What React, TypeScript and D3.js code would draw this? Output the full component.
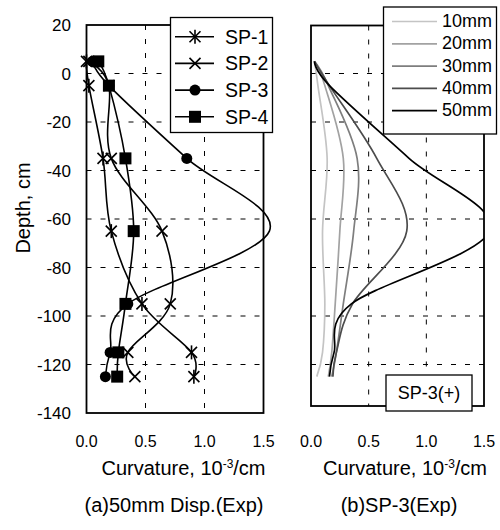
import React from "react";
import * as d3 from "d3";

// ---------- data ----------
const depths = [5, -5, -35, -65, -95, -115, -125];
const sp1 = [0.0, 0.02, 0.14, 0.21, 0.47, 0.89, 0.91];
const sp2 = [0.02, 0.19, 0.21, 0.64, 0.71, 0.35, 0.41];
const sp3 = [0.05, 0.19, 0.85, 1.55, 0.35, 0.2, 0.16];
const sp4 = [0.1, 0.19, 0.33, 0.4, 0.33, 0.27, 0.26];
const spNames = ["SP-1", "SP-2", "SP-3", "SP-4"];
const spMarkers = ["asterisk", "x", "circle", "square"];

const d10 = [0.03, 0.06, 0.14, 0.1, 0.12, 0.1, 0.05];
const d20 = [0.03, 0.12, 0.28, 0.25, 0.21, 0.18, 0.15];
const d30 = [0.03, 0.15, 0.4, 0.37, 0.28, 0.22, 0.18];
const d40 = [0.03, 0.16, 0.57, 0.83, 0.36, 0.22, 0.19];
const d50 = [0.03, 0.16, 0.85, 1.55, 0.35, 0.2, 0.16];
const dispNames = ["10mm", "20mm", "30mm", "40mm", "50mm"];
const dispColors = ["#c4c4c4", "#a2a2a2", "#7e7e7e", "#4c4c4c", "#000000"];

const yTicks = [20, 0, -20, -40, -60, -80, -100, -120, -140];
const xTicks = [0, 0.5, 1.0, 1.5];
const xTickLabels = ["0.0", "0.5", "1.0", "1.5"];

// ---------- layout ----------
const FONT = "'Liberation Sans', Arial, Helvetica, sans-serif";
const L = { x0: 86.5, x1: 263.5, top: 25, bottom: 413 };
const R = { x0: 311, x1: 484, top: 25.5, bottom: 406 };

const y = d3.scaleLinear().domain([20, -140]).range([L.top, L.bottom]);
const xL = d3.scaleLinear().domain([0, 1.5]).range([L.x0, L.x1]);
const xR = d3.scaleLinear().domain([0, 1.5]).range([R.x0, R.x1]);

type Pt = { v: number; d: number };
const toPts = (vals: number[]): Pt[] => vals.map((v, i) => ({ v, d: depths[i] }));

const lineGen = (xs: d3.ScaleLinear<number, number>) =>
  d3
    .line<Pt>()
    .x((p) => xs(p.v))
    .y((p) => y(p.d))
    .curve(d3.curveCardinal.tension(0));

function Marker({ type, cx, cy }: { type: string; cx: number; cy: number }) {
  const s = 5.5;
  if (type === "circle") return <circle cx={cx} cy={cy} r={5.5} fill="#000" />;
  if (type === "square")
    return <rect x={cx - 6} y={cy - 6} width={12} height={12} fill="#000" />;
  const parts = [
    <line key="a" x1={cx - s} y1={cy - s} x2={cx + s} y2={cy + s} />,
    <line key="b" x1={cx - s} y1={cy + s} x2={cx + s} y2={cy - s} />,
  ];
  if (type === "asterisk")
    parts.push(<line key="c" x1={cx} y1={cy - 7} x2={cx} y2={cy + 7} />);
  return (
    <g stroke="#000" strokeWidth={1.6}>
      {parts}
    </g>
  );
}

function Grid({ xs, P }: { xs: d3.ScaleLinear<number, number>; P: typeof L }) {
  const hs = yTicks.filter((t) => y(t) > P.top + 1 && y(t) < P.bottom - 1);
  const vs = xTicks.filter((t) => xs(t) > P.x0 + 1 && xs(t) < P.x1 - 1);
  return (
    <g stroke="#000" strokeWidth={1} strokeDasharray="5,9">
      {hs.map((t) => (
        <line key={"h" + t} x1={P.x0} x2={P.x1} y1={y(t)} y2={y(t)} />
      ))}
      {vs.map((t) => (
        <line key={"v" + t} x1={xs(t)} x2={xs(t)} y1={P.top} y2={P.bottom} />
      ))}
    </g>
  );
}

export default function App() {
  const spSeries = [sp1, sp2, sp3, sp4].map(toPts);
  const dispSeries = [d10, d20, d30, d40, d50].map(toPts);
  const gL = lineGen(xL);
  const gR = lineGen(xR);
  const [, xMax] = xL.domain();

  return (
    <svg width={500} height={530} style={{ display: "block", position: "absolute", left: 0, top: 0 }} fontFamily={FONT}>
      <rect x={0} y={0} width={500} height={530} fill="#fff" />
      <defs>
        <clipPath id="clipR">
          <rect x={R.x0} y={R.top} width={R.x1 - R.x0} height={R.bottom - R.top} />
        </clipPath>
      </defs>

      {/* ---------- left panel ---------- */}
      <Grid xs={xL} P={L} />
      {spSeries.map((pts, i) => (
        <path key={"l" + i} d={gL(pts) || ""} fill="none" stroke="#000" strokeWidth={1.6} />
      ))}
      {spSeries.map((pts, i) =>
        pts
          .filter((p) => p.v <= xMax)
          .map((p, j) => <Marker key={`m${i}-${j}`} type={spMarkers[i]} cx={xL(p.v)} cy={y(p.d)} />)
      )}
      <rect x={L.x0} y={L.top} width={L.x1 - L.x0} height={L.bottom - L.top} fill="none" stroke="#000" strokeWidth={1.8} />

      {yTicks.map((t) => (
        <text key={"yt" + t} x={71} y={y(t)} dy="0.36em" textAnchor="end" fontSize={17}>
          {String(t)}
        </text>
      ))}
      {xTicks.map((t, i) => (
        <text key={"xl" + t} x={xL(t)} y={447} textAnchor="middle" fontSize={16}>
          {xTickLabels[i]}
        </text>
      ))}
      <text transform={`translate(30,208) rotate(-90)`} textAnchor="middle" fontSize={20}>
        Depth, cm
      </text>
      <text x={183.5} y={475} textAnchor="middle" fontSize={20}>
        Curvature, 10<tspan dy={-7} fontSize={12}>-3</tspan>
        <tspan dy={7}>/cm</tspan>
      </text>
      <text x={174} y={512} textAnchor="middle" fontSize={20}>
        (a)50mm Disp.(Exp)
      </text>

      {/* left legend */}
      <g>
        <rect x={170.5} y={17.5} width={102} height={115} fill="#fff" stroke="#000" strokeWidth={1.3} />
        {spNames.map((n, i) => {
          const cy = 36.7 + i * 26.7;
          return (
            <g key={n}>
              <line x1={175} x2={214} y1={cy} y2={cy} stroke="#000" strokeWidth={1.6} />
              <Marker type={spMarkers[i]} cx={195} cy={cy} />
              <text x={225} y={cy} dy="0.36em" fontSize={19.5}>
                {n}
              </text>
            </g>
          );
        })}
      </g>

      {/* ---------- right panel ---------- */}
      <Grid xs={xR} P={R} />
      <g clipPath="url(#clipR)">
        {dispSeries.map((pts, i) => (
          <path key={"r" + i} d={gR(pts) || ""} fill="none" stroke={dispColors[i]} strokeWidth={1.7} />
        ))}
      </g>
      <rect x={R.x0} y={R.top} width={R.x1 - R.x0} height={R.bottom - R.top} fill="none" stroke="#000" strokeWidth={1.8} />
      {xTicks.map((t, i) => (
        <text key={"xr" + t} x={xR(t)} y={447} textAnchor="middle" fontSize={16}>
          {xTickLabels[i]}
        </text>
      ))}
      <text x={405} y={475} textAnchor="middle" fontSize={20}>
        Curvature, 10<tspan dy={-7} fontSize={12}>-3</tspan>
        <tspan dy={7}>/cm</tspan>
      </text>
      <text x={399} y={512} textAnchor="middle" fontSize={20}>
        (b)SP-3(Exp)
      </text>

      {/* right legend */}
      <g>
        <rect x={383.5} y={7} width={113} height={127} fill="#fff" stroke="#000" strokeWidth={1.3} />
        {dispNames.map((n, i) => {
          const cy = 20.7 + i * 22.3;
          return (
            <g key={n}>
              <line x1={392} x2={437} y1={cy + 0.8} y2={cy + 0.8} stroke={dispColors[i]} strokeWidth={1.7} />
              <text x={442} y={cy} dy="0.36em" fontSize={18}>
                {n}
              </text>
            </g>
          );
        })}
      </g>

      {/* SP-3(+) label box */}
      <rect x={386} y={375} width={86} height={36} fill="#fff" stroke="#000" strokeWidth={1.3} />
      <text x={429} y={393} dy="0.36em" textAnchor="middle" fontSize={18}>
        SP-3(+)
      </text>
    </svg>
  );
}
